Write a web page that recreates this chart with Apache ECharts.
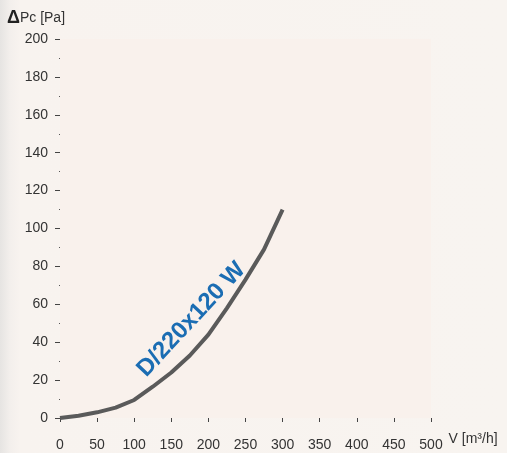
<!DOCTYPE html>
<html><head><meta charset="utf-8">
<script src="https://cdn.jsdelivr.net/npm/echarts@6/dist/echarts.min.js"></script>
<style>html,body{margin:0;padding:0;background:#f8f3ef;}#c{width:507px;height:453px;}</style>
</head><body><div id="c"></div>
<script>
const flowValues = [0, 25, 50, 75, 100, 125, 150, 175, 200, 225, 250, 275, 300];
const pressureValues = [0, 1.2, 3, 5.5, 9.5, 16.5, 24, 33, 44, 58, 73, 89, 110];
const xTicks = [0, 50, 100, 150, 200, 250, 300, 350, 400, 450, 500];
const yTicks = [0, 20, 40, 60, 80, 100, 120, 140, 160, 180, 200];
const curveLabel = 'D/220x120 W';

const chart = echarts.init(document.getElementById('c'));
const font = 'Liberation Sans, Arial, sans-serif';
chart.setOption({
  animation: false,
  backgroundColor: {type:'linear',x:0,y:0,x2:1,y2:0,colorStops:[
    {offset:0,color:'#e6e4e2'},{offset:0.02,color:'#f3efec'},{offset:0.04,color:'#f8f3ef'},{offset:1,color:'#f8f4f0'}]},
  grid: {left:60, right:76, top:39, bottom:35, show:true, backgroundColor:'#f9f1ec', borderWidth:0},
  xAxis: {
    type:'value', min:xTicks[0], max:xTicks[xTicks.length-1], interval:50,
    axisLine:{show:false},
    axisTick:{show:true, length:4, lineStyle:{color:'#444', width:1}},
    axisLabel:{color:'#333', fontSize:14, fontFamily:font, margin:20},
    splitLine:{show:false},
    name:'V [m\u00B3/h]', nameLocation:'end', nameGap:10,
    nameTextStyle:{color:'#333', fontSize:14, fontFamily:font, verticalAlign:'top', padding:[14,0,0,0]}
  },
  yAxis: {
    type:'value', min:yTicks[0], max:yTicks[yTicks.length-1], interval:20,
    axisLine:{show:false},
    axisTick:{show:true, length:5, lineStyle:{color:'#444', width:1}},
    minorTick:{show:true, splitNumber:2, length:1, lineStyle:{color:'#555', width:1}},
    axisLabel:{color:'#333', fontSize:14, fontFamily:font, margin:12},
    splitLine:{show:false},
    name:'{d|\u0394}{t|Pc [Pa]}', nameLocation:'end', nameGap:12,
    nameTextStyle:{align:'center', fontSize:14, color:'#333', fontFamily:font, padding:[0,48,0,0],
      rich:{d:{fontSize:18,fontWeight:'bold',color:'#222',fontFamily:font},
            t:{fontSize:14,color:'#333',fontFamily:font}}}
  },
  series: [{
    type:'line', data: flowValues.map((v,i)=>[v, pressureValues[i]]),
    showSymbol:false, smooth:false,
    lineStyle:{color:'#5a5a5a', width:4}
  }]
});
const p = chart.convertToPixel({gridIndex:0}, [177, 52]);
chart.setOption({graphic:[{type:'text', x:p[0], y:p[1], rotation:47*Math.PI/180,
  style:{text:curveLabel, fill:'#1b6db3', font:'bold 24px '+font, align:'center', verticalAlign:'middle'}}]});
</script></body></html>
